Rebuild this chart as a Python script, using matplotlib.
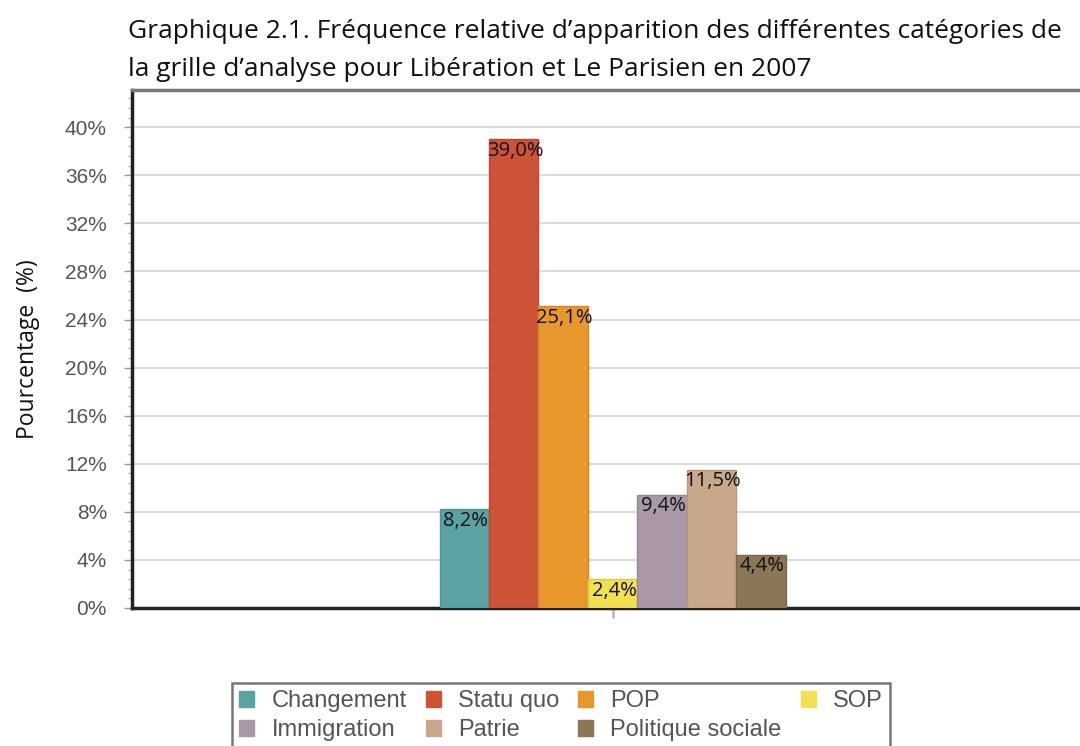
import matplotlib
matplotlib.use("Agg")
import matplotlib.pyplot as plt
from matplotlib.patches import Patch
from matplotlib.ticker import MultipleLocator, FuncFormatter
import numpy as np

# Categories of the analysis grid and their relative frequency (%)
categories = ["Changement", "Statu quo", "POP", "SOP",
              "Immigration", "Patrie", "Politique sociale"]
values = [8.2, 39.0, 25.1, 2.4, 9.4, 11.5, 4.4]
value_labels = ["8,2%", "39,0%", "25,1%", "2,4%", "9,4%", "11,5%", "4,4%"]
colors = ["#5ba3a2", "#cd5337", "#e8972d", "#f1e04f",
          "#a998a7", "#c9a78a", "#8b7656"]
edge_colors = ["#4e9291", "#b84a30", "#d48626", "#dccb45",
               "#998897", "#b9977b", "#7b674a"]
yticks = [0, 4, 8, 12, 16, 20, 24, 28, 32, 36, 40]

title = ("Graphique 2.1. Fréquence relative d’apparition des différentes catégories de\n"
         "la grille d’analyse pour Libération et Le Parisien en 2007")

fig = plt.figure(figsize=(10.8, 7.46), dpi=100)
fig.patch.set_facecolor("white")

ax = fig.add_axes([0.1222, 0.185, 0.89, 0.6944])

x = np.arange(len(values))
ax.bar(x, values, width=1.0, color=colors, edgecolor=edge_colors,
       linewidth=1.0, zorder=3)

for xi, v, lab in zip(x, values, value_labels):
    ax.annotate(lab, (xi, v), xytext=(1, -1), textcoords="offset points",
                ha="center", va="top", fontsize=14.5, family="Open Sans",
                color="#111111", zorder=4)

ax.set_xlim(-6.72, 12.72)
ax.set_ylim(0, 43.1)

ax.set_yticks(yticks)
ax.yaxis.set_major_formatter(FuncFormatter(lambda v, p: f"{v:.0f}%"))
ax.yaxis.set_minor_locator(MultipleLocator(0.8))
ax.tick_params(axis="y", which="major", length=6, width=1.0, color="#9a9a9a",
               labelsize=15, labelcolor="#555555", pad=12)
ax.tick_params(axis="y", which="minor", length=3, width=0.8, color="#b0b0b0")
for lbl in ax.get_yticklabels():
    lbl.set_family("Liberation Sans")

ax.set_xticks([3])
ax.set_xticklabels([""])
ax.tick_params(axis="x", length=7, width=2, color="#bdbdbd")

ax.grid(axis="y", color="#dddddd", linewidth=1.5, zorder=0)
ax.set_axisbelow(True)

ax.spines["left"].set_linewidth(2.5)
ax.spines["left"].set_color("#222222")
ax.spines["bottom"].set_linewidth(2.5)
ax.spines["bottom"].set_color("#222222")
ax.spines["top"].set_linewidth(2.5)
ax.spines["top"].set_color("#7a7a7a")
ax.spines["right"].set_visible(False)

ax.set_ylabel("Pourcentage  (%)", family="Open Sans", fontsize=16.5,
              color="#111111", labelpad=18)

fig.text(128 / 1080, 1 - 19 / 746, title, ha="left", va="top",
         family="Open Sans", fontsize=19, color="#111111", linespacing=1.68)

# Legend filled column by column: four columns, two rows
order = [0, 4, 1, 5, 2, 6, 3]
handles = [Patch(facecolor=colors[i], edgecolor=colors[i]) for i in order]
labels = [categories[i] for i in order]
leg = fig.legend(handles, labels, loc="upper left",
                 bbox_to_anchor=(232 / 1080, 1 - 683 / 746),
                 borderaxespad=0.0,
                 ncol=4, frameon=True, fancybox=False,
                 prop={"family": "Liberation Sans", "size": 17},
                 handlelength=0.65, handleheight=0.65, handletextpad=0.72,
                 columnspacing=0.8, labelspacing=0.3, borderpad=0.3,
                 labelcolor="#555555")
leg.get_frame().set_edgecolor("#555555")
leg.get_frame().set_linewidth(1.8)

fig.savefig("out.png", dpi=100, facecolor="white")
